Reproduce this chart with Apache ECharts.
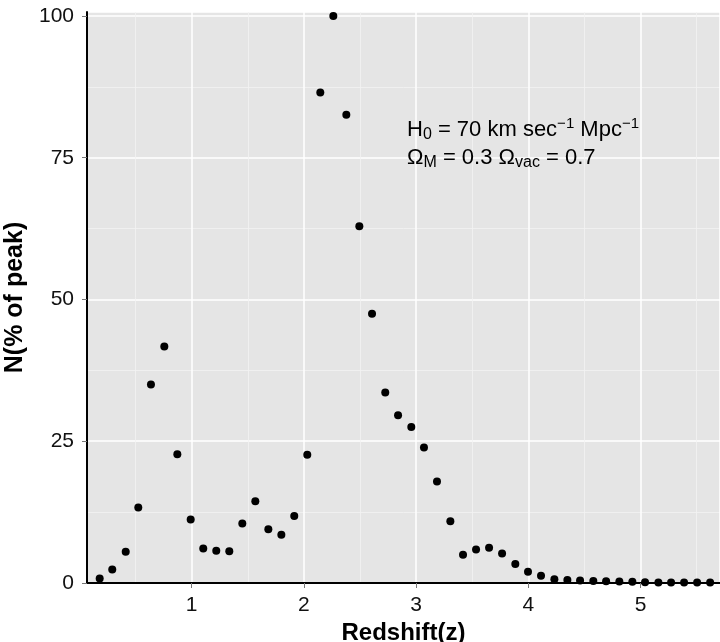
<!DOCTYPE html>
<html>
<head>
<meta charset="utf-8">
<script src="https://cdn.jsdelivr.net/npm/echarts@6/dist/echarts.min.js"></script>
<style>
html, body { margin: 0; padding: 0; background: #fff; }
#chart { width: 720px; height: 642px; }
</style>
</head>
<body>
<div id="chart"></div>
<script>
// redshift bins
const redshift = [0.18, 0.292, 0.412, 0.524, 0.637, 0.756, 0.872, 0.991, 1.103, 1.219,
  1.335, 1.451, 1.567, 1.683, 1.799, 1.914, 2.03, 2.146, 2.262, 2.378,
  2.494, 2.607, 2.725, 2.839, 2.957, 3.07, 3.186, 3.305, 3.418, 3.534,
  3.65, 3.766, 3.884, 3.997, 4.113, 4.232, 4.348, 4.461, 4.579, 4.693,
  4.811, 4.927, 5.04, 5.159, 5.272, 5.388, 5.504, 5.62];
// N as % of peak
const nPeak = [0.8, 2.4, 5.5, 13.3, 35.0, 41.7, 22.7, 11.2, 6.1, 5.7,
  5.6, 10.5, 14.4, 9.5, 8.5, 11.8, 22.6, 86.5, 100, 82.6,
  62.9, 47.5, 33.6, 29.6, 27.5, 23.9, 17.9, 10.9, 5.0, 5.9,
  6.2, 5.2, 3.35, 2.0, 1.3, 0.65, 0.55, 0.45, 0.35, 0.3,
  0.25, 0.2, 0.12, 0.1, 0.1, 0.1, 0.1, 0.1];
const xTicks = [1, 2, 3, 4, 5];

const points = redshift.map((z, i) => [z, nPeak[i]]);
const font = 'Liberation Sans, Arial, Helvetica, sans-serif';

const chart = echarts.init(document.getElementById('chart'));
const option = {
  animation: false,
  textStyle: { fontFamily: font },
  grid: {
    left: 87, right: 0, top: 12, bottom: 59,
    show: true, backgroundColor: '#e5e5e5', borderWidth: 0,
    outerBoundsMode: 'none'
  },
  xAxis: {
    type: 'value',
    min: 0.067,
    max: 5.708,
    splitNumber: 5,
    name: 'Redshift(z)',
    nameLocation: 'middle',
    nameGap: 30,
    nameTextStyle: { fontSize: 24, fontWeight: 'bold', color: '#000', fontFamily: font },
    axisLine: { onZero: false, lineStyle: { color: '#000', width: 2 } },
    axisTick: { length: 5, lineStyle: { color: '#777', width: 1 } },
    axisLabel: {
      margin: 12, fontSize: 21, color: '#111', fontFamily: font,
      showMinLabel: false, showMaxLabel: false,
      formatter: v => xTicks.includes(v) ? String(v) : ''
    },
    splitLine: { lineStyle: { color: '#fff', width: 1.5 } },
    minorTick: { show: false, splitNumber: 2 },
    minorSplitLine: { show: true, lineStyle: { color: '#f2f2f2', width: 0.8 } }
  },
  yAxis: {
    type: 'value',
    min: 0,
    max: 100.7,
    interval: 25,
    name: 'N(% of peak)',
    nameLocation: 'middle',
    nameGap: 52,
    nameTextStyle: { fontSize: 25, fontWeight: 'bold', color: '#000', fontFamily: font },
    axisLine: { show: true, onZero: false, lineStyle: { color: '#000', width: 2 } },
    axisTick: { show: true, length: 5, lineStyle: { color: '#777', width: 1 } },
    axisLabel: { margin: 13, fontSize: 21, color: '#111', fontFamily: font, showMaxLabel: false },
    splitLine: { lineStyle: { color: '#fff', width: 1.5 } },
    minorTick: { show: false, splitNumber: 2 },
    minorSplitLine: { show: true, lineStyle: { color: '#f2f2f2', width: 0.8 } }
  },
  graphic: [{
    type: 'text',
    left: 407,
    top: 116,
    z: 100,
    style: {
      text: '{m|H}{sub|0}{m| = 70 km sec}{sup|−1}{m| Mpc}{sup|−1}\n' +
            '{m|Ω}{sub|M}{m| = 0.3 Ω}{sub|vac}{m| = 0.7}',
      fontFamily: font,
      fill: '#000',
      rich: {
        m: { fontSize: 22, lineHeight: 27, fontFamily: font, fill: '#000' },
        sub: { fontSize: 16, padding: [10, 0, 0, 0], fontFamily: font, fill: '#000' },
        sup: { fontSize: 15, padding: [0, 0, 13, 0], fontFamily: font, fill: '#000' }
      }
    }
  }],
  series: [{
    type: 'scatter',
    data: points,
    symbolSize: 8,
    itemStyle: { color: '#000', opacity: 1 },
    clip: false
  }]
};
chart.setOption(option);
</script>
</body>
</html>
